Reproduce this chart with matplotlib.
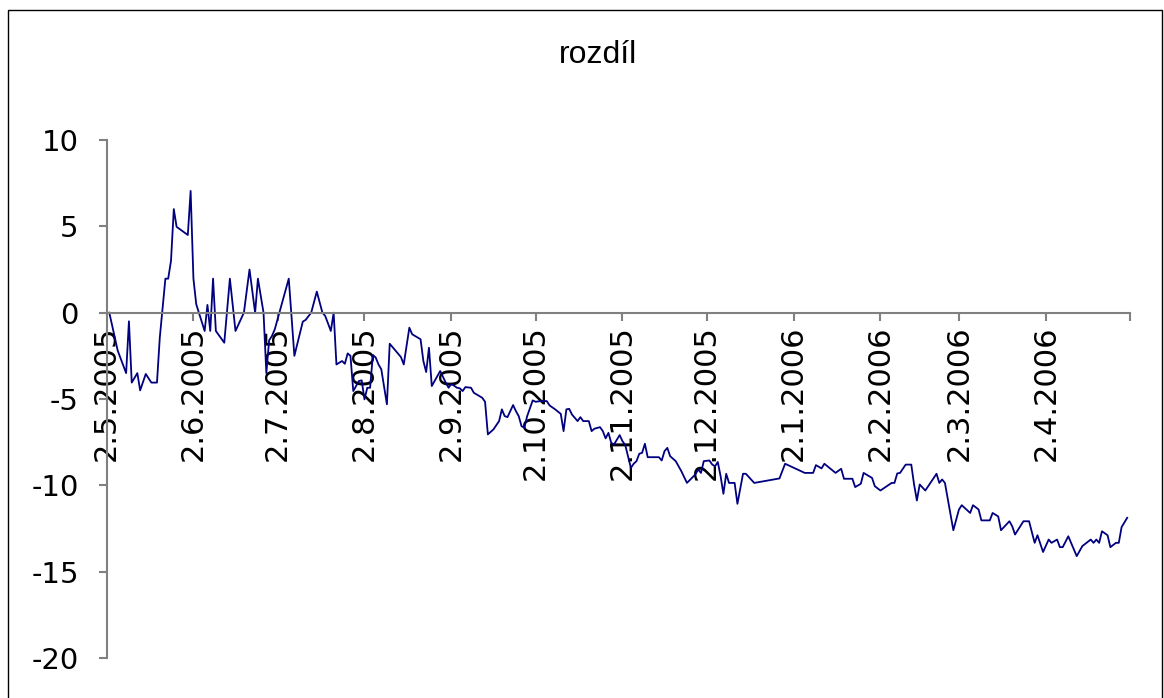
import matplotlib
matplotlib.use("Agg")
import matplotlib.pyplot as plt
import matplotlib.patches as mpatches
import pandas as pd

plt.rcParams['font.family'] = ['DejaVu Sans']

title = "rozdíl"
start_date = "2005-05-02"
end_date = "2006-05-02"

day_offsets = [
    1, 3, 4, 7, 8, 9, 11, 12, 14, 16, 18, 19, 21, 22, 23, 24, 25, 29, 30, 31,
    32, 35, 36, 37, 38, 39, 42, 44, 46, 49, 51, 53, 54, 56, 57, 58, 59, 60, 65, 67,
    70, 71, 73, 75, 77, 78, 80, 81, 82, 84, 85, 86, 87, 88, 90, 91, 92, 93, 94, 95,
    96, 97, 98, 100, 101, 105, 106, 108, 109, 112, 113, 114, 115, 116, 119, 121, 122, 123, 125, 126,
    127, 128, 130, 131, 134, 135, 136, 138, 140, 141, 142, 143, 145, 146, 147, 148, 149, 150, 152, 153,
    155, 157, 158, 160, 162, 163, 164, 165, 166, 168, 169, 170, 172, 173, 174, 176, 177, 178, 179, 180,
    181, 183, 184, 185, 187, 188, 189, 190, 191, 192, 193, 197, 198, 199, 200, 201, 203, 205, 207, 210,
    211, 212, 213, 215, 216, 217, 218, 219, 220, 221, 222, 224, 225, 227, 228, 231, 240, 242, 249, 252,
    253, 255, 256, 260, 262, 263, 266, 267, 269, 270, 273, 274, 276, 280, 281, 282, 283, 285, 287, 288,
    289, 290, 292, 296, 297, 298, 299, 302, 304, 305, 308, 309, 311, 312, 315, 316, 318, 319, 322, 323,
    324, 327, 329, 331, 332, 334, 336, 337, 339, 340, 341, 343, 346, 348, 351, 352, 353, 354, 355, 357,
    358, 360, 361, 362, 364,
]

values = [
    0.0, -1.45, -2.2, -3.5, -0.5, -4.05, -3.5, -4.5, -3.55, -4.05, -4.05, -1.45, 1.97, 1.97, 3.0, 6.0, 4.97, 4.5, 7.05, 1.97,
    0.49, -1.06, 0.45, -1.06, 1.97, -1.06, -1.74, 1.97, -1.06, 0.0, 2.5, 0.0, 1.97, 0.0, -3.5, -1.6, -1.35, -0.97, 1.97, -2.5,
    -0.52, -0.42, 0.0, 1.22, 0.0, -0.19, -1.06, 0.0, -3.0, -2.8, -2.96, -2.36, -2.5, -4.54, -3.96, -3.92, -5.02, -4.35, -4.35, -2.45,
    -2.6, -3.0, -3.28, -5.31, -1.8, -2.57, -3.0, -0.87, -1.25, -1.54, -2.8, -3.44, -2.03, -4.25, -3.38, -4.06, -4.35, -4.12, -4.35, -4.38,
    -4.54, -4.31, -4.35, -4.64, -4.93, -5.16, -7.05, -6.76, -6.28, -5.6, -5.99, -6.05, -5.35, -5.7, -5.99, -6.57, -6.67, -6.0, -5.08, -5.16,
    -5.12, -5.12, -5.37, -5.6, -5.86, -6.86, -5.6, -5.57, -5.9, -6.28, -6.05, -6.28, -6.28, -6.86, -6.72, -6.63, -6.86, -7.28, -6.96, -7.54,
    -7.63, -7.09, -7.44, -7.67, -8.99, -8.75, -8.6, -8.17, -8.12, -7.59, -8.37, -8.37, -8.56, -8.02, -7.83, -8.31, -8.6, -9.18, -9.86, -9.37,
    -9.08, -9.28, -8.6, -8.56, -8.79, -8.9, -8.65, -9.47, -10.49, -9.33, -9.86, -9.86, -11.07, -9.33, -9.33, -9.86, -9.6, -8.75, -9.28, -9.28,
    -8.83, -9.02, -8.75, -9.28, -9.04, -9.62, -9.62, -10.1, -9.91, -9.28, -9.57, -10.05, -10.3, -9.86, -9.86, -9.31, -9.28, -8.8, -8.8, -9.95,
    -10.88, -9.95, -10.3, -9.33, -9.86, -9.66, -9.86, -12.6, -11.4, -11.15, -11.6, -11.15, -11.4, -12.03, -12.03, -11.6, -11.8, -12.6, -12.08, -12.37,
    -12.85, -12.08, -12.08, -13.33, -12.89, -13.86, -13.14, -13.33, -13.14, -13.58, -13.58, -12.95, -14.1, -13.52, -13.14, -13.33, -13.14, -13.33, -12.66, -12.89,
    -13.58, -13.33, -13.33, -12.42, -11.88,
]

y_ticks = [-20, -15, -10, -5, 0, 5, 10]

dates = pd.Timestamp(start_date) + pd.to_timedelta(day_offsets, unit="D")
tick_dates = pd.date_range(start_date, end_date, freq=pd.DateOffset(months=1))
tick_labels = [f"{d.day}.{d.month}.{d.year}" for d in tick_dates]
tick_labels[-1] = ""

W, H = 1164, 698
fig = plt.figure(figsize=(W / 100, H / 100), dpi=100)
fig.patch.set_facecolor("white")

# outer chart border
fig.patches.append(mpatches.Rectangle((8 / W, -0.05), (1162 - 8) / W, 1.05 - 10 / H,
                                      transform=fig.transFigure, fill=False,
                                      edgecolor="black", linewidth=1.0))

ax = fig.add_axes([106.5 / W, 40 / H, (1130 - 106.5) / W, (658 - 140) / H])
ax.plot(dates, values, color="#000080", linewidth=1.3)

ax.set_xlim(pd.Timestamp(start_date), pd.Timestamp(end_date))
ax.set_ylim(-20, 10)
ax.set_yticks(y_ticks)
ax.set_yticklabels([str(v) for v in y_ticks])
ax.set_xticks(tick_dates)
ax.set_xticklabels(tick_labels)

for s in ["top", "right"]:
    ax.spines[s].set_visible(False)
ax.spines["bottom"].set_position(("data", 0))
ax.spines["bottom"].set_color("#808080")
ax.spines["left"].set_color("#808080")
ax.spines["bottom"].set_linewidth(1.5)
ax.spines["left"].set_linewidth(1.5)

ax.tick_params(axis="y", direction="out", length=6, width=1.5, color="#808080",
               labelsize=21, pad=14)
ax.tick_params(axis="x", direction="out", length=6, width=1.5, color="#808080",
               labelsize=22, pad=3, labelrotation=90)
for lbl in ax.get_xticklabels():
    lbl.set_verticalalignment("top")
    lbl.set_horizontalalignment("center")
ax.patch.set_alpha(0)

fig.text(598 / W, 1 - 55 / H, title, ha="center", va="center", fontsize=23,
         family=["Liberation Sans", "DejaVu Sans"])

fig.savefig("out.png", dpi=100)
